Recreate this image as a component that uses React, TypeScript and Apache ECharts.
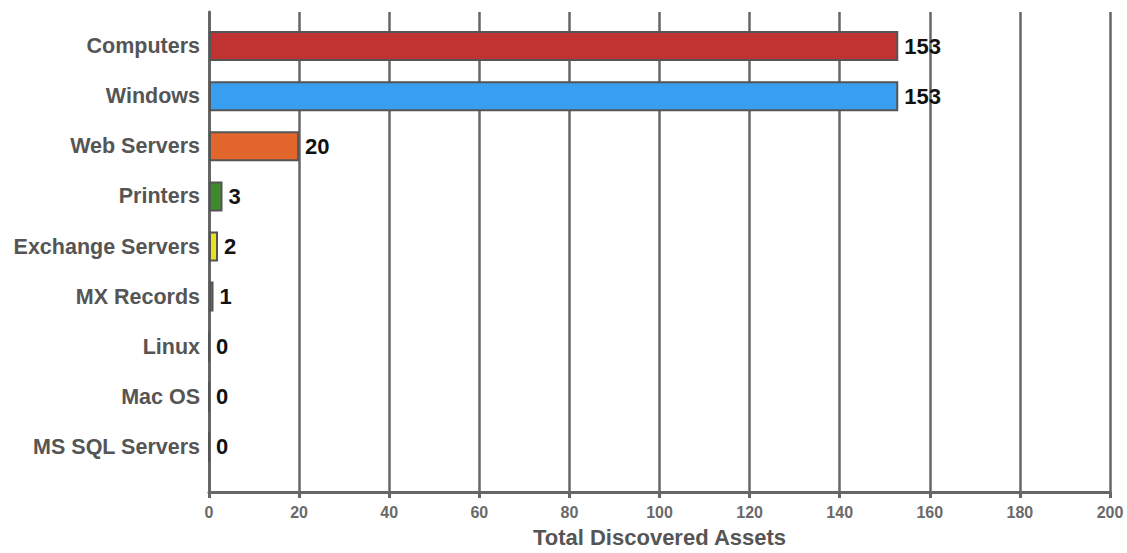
import React, { useEffect, useRef } from "react";
import * as echarts from "echarts";

const categories = [
  "Computers",
  "Windows",
  "Web Servers",
  "Printers",
  "Exchange Servers",
  "MX Records",
  "Linux",
  "Mac OS",
  "MS SQL Servers",
];
const values = [153, 153, 20, 3, 2, 1, 0, 0, 0];
const barColors = [
  "#c13232",
  "#389ff0",
  "#e2652c",
  "#3e8b2c",
  "#e9e21f",
  "#8c6b52",
  "#888888",
  "#888888",
  "#888888",
];
const xMin = 0;
const xMax = 200;
const xInterval = 20;
const axisTitle = "Total Discovered Assets";

export default function App() {
  const ref = useRef<HTMLDivElement>(null);
  useEffect(() => {
    if (!ref.current) return;
    const chart = echarts.init(ref.current, null, { renderer: "svg" });
    const font = "Liberation Sans, Arial, sans-serif";
    chart.setOption({
      animation: false,
      backgroundColor: "#ffffff",
      grid: [
        { left: 209, right: 17, top: 12, bottom: 60 },
        { left: 209, right: 17, top: 21, bottom: 81 },
      ],
      xAxis: [
        {
          gridIndex: 0,
          type: "value",
          min: xMin,
          max: xMax,
          interval: xInterval,
          name: axisTitle,
          nameLocation: "middle",
          nameGap: 34,
          nameTextStyle: {
            color: "#555555",
            fontWeight: "bold",
            fontSize: 22,
            fontFamily: font,
          },
          axisLine: { show: true, lineStyle: { color: "#666666", width: 3 } },
          axisTick: { show: true, length: 6, lineStyle: { color: "#666666", width: 3 } },
          axisLabel: {
            color: "#6a6a6a",
            fontWeight: "bold",
            fontSize: 16,
            fontFamily: font,
            margin: 12,
          },
          splitLine: { show: true, lineStyle: { color: "#666666", width: 2.5 } },
        },
        {
          gridIndex: 1,
          type: "value",
          min: xMin,
          max: xMax,
          interval: xInterval,
          show: false,
        },
      ],
      yAxis: [
        {
          gridIndex: 0,
          type: "value",
          min: 0,
          max: 1,
          axisLine: { show: true, lineStyle: { color: "#666666", width: 3 } },
          axisTick: { show: false },
          axisLabel: { show: false },
          splitLine: { show: false },
        },
        {
          gridIndex: 1,
          type: "category",
          data: categories,
          inverse: true,
          axisLine: { show: false },
          axisTick: { show: false },
          splitLine: { show: false },
          axisLabel: {
            color: "#555555",
            fontWeight: "bold",
            fontSize: 21.5,
            fontFamily: font,
            margin: 9,
          },
        },
      ],
      series: [
        {
          type: "bar",
          xAxisIndex: 1,
          yAxisIndex: 1,
          barWidth: 30,
          data: values.map((v, i) => ({
            value: v,
            itemStyle: { color: barColors[i] },
          })),
          itemStyle: { borderColor: "#555555", borderWidth: 2 },
          label: {
            show: true,
            position: "right",
            distance: 6,
            color: "#111111",
            fontWeight: "bold",
            fontSize: 22,
            fontFamily: font,
          },
        },
      ],
    });
    return () => chart.dispose();
  }, []);
  return (
    <div
      ref={ref}
      style={{ position: "fixed", left: 0, top: 0, width: 1127, height: 553 }}
    />
  );
}
